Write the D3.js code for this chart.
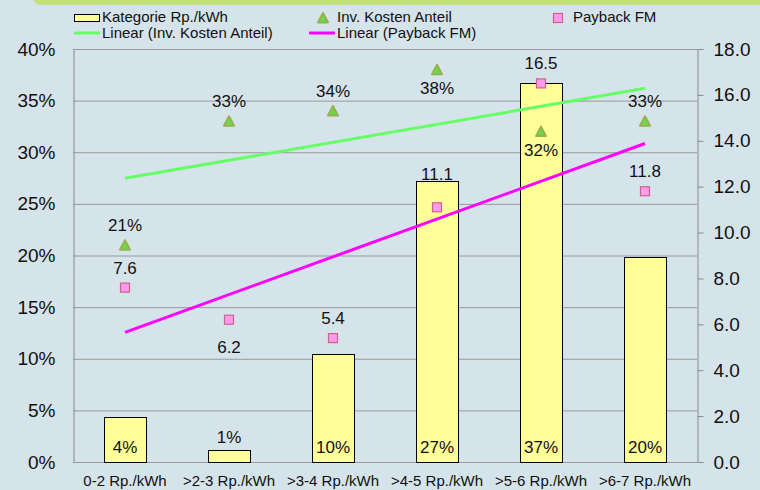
<!DOCTYPE html>
<html>
<head>
<meta charset="utf-8">
<script src="https://cdn.jsdelivr.net/npm/d3@7/dist/d3.min.js"></script>
<style>
  body { margin: 0; background: #d5e3ea; }
  svg { display: block; font-family: "Liberation Sans", Arial, sans-serif; }
</style>
</head>
<body>
<svg id="chart" width="760" height="490"></svg>
<script>
// Daten
var categories = ["0-2 Rp./kWh", ">2-3 Rp./kWh", ">3-4 Rp./kWh", ">4-5 Rp./kWh", ">5-6 Rp./kWh", ">6-7 Rp./kWh"];
var kategorie = [4.4, 1.2, 10.5, 27.2, 36.7, 19.9];       // % (linke Achse)
var kategorieLabels = ["4%", "1%", "10%", "27%", "37%", "20%"];
var invKosten = [21, 33, 34, 38, 32, 33];                  // % (linke Achse)
var invKostenLabelPos = ["above", "above", "above", "below", "below", "above"];
var payback = [7.6, 6.2, 5.4, 11.1, 16.5, 11.8];           // rechte Achse
var paybackLabelPos = ["above", "below", "above", "high", "above", "above"];
var leftTicks = [0, 5, 10, 15, 20, 25, 30, 35, 40];
var rightTicks = [0, 2, 4, 6, 8, 10, 12, 14, 16, 18];

var svg = d3.select("#chart");
var m = { left: 73, right: 63, top: 49, bottom: 28 };
var W = 760, H = 490;
var innerW = W - m.left - m.right, innerH = H - m.top - m.bottom;

// grüner Streifen oben
svg.append("path")
  .attr("d", "M33,0 L760,0 L760,5 L38,5 Z")
  .attr("fill", "#c4e07a");

var x = d3.scaleBand().domain(categories).range([m.left, m.left + innerW]).paddingInner(0.6).paddingOuter(0.3);
var xc = function(i){ return x(categories[i]) + x.bandwidth() / 2; };
var yL = d3.scaleLinear().domain([0, 40]).range([m.top + innerH, m.top]);
var yR = d3.scaleLinear().domain([0, 18]).range([m.top + innerH, m.top]);

// Gitterlinien
svg.append("g").selectAll("line").data(leftTicks).enter().append("line")
  .attr("x1", m.left).attr("x2", m.left + innerW)
  .attr("y1", function(d){ return yL(d) + 0.5; }).attr("y2", function(d){ return yL(d) + 0.5; })
  .attr("stroke", "#9a9a9a").attr("stroke-width", 1);

// linke Achse
var axL = svg.append("g").attr("transform", "translate(" + (m.left + 0.5) + ",0)")
  .call(d3.axisLeft(yL).tickValues(leftTicks).tickSize(0).tickPadding(18).tickFormat(function(d){ return d + "%"; }));
axL.select(".domain").attr("stroke", "#8a8a8a");
axL.selectAll("text").attr("font-size", 19).attr("fill", "#111").attr("font-family", "Liberation Sans, Arial, sans-serif");

// rechte Achse
var axR = svg.append("g").attr("transform", "translate(" + (m.left + innerW + 0.5) + ",0)")
  .call(d3.axisRight(yR).tickValues(rightTicks).tickSize(6).tickPadding(10).tickFormat(d3.format(".1f")));
axR.select(".domain").attr("stroke", "#8a8a8a");
axR.selectAll("line").attr("stroke", "#8a8a8a");
axR.selectAll("text").attr("font-size", 19).attr("fill", "#111").attr("font-family", "Liberation Sans, Arial, sans-serif");

// Kategorien
svg.append("g").selectAll("text").data(categories).enter().append("text")
  .attr("x", function(d, i){ return xc(i); }).attr("y", 486)
  .attr("text-anchor", "middle").attr("font-size", 15).attr("fill", "#111")
  .text(function(d){ return d; });

// Balken
svg.append("g").selectAll("rect").data(kategorie).enter().append("rect")
  .attr("x", function(d, i){ return Math.round(x(categories[i])) + 0.5; })
  .attr("y", function(d){ return Math.round(yL(d)) + 0.5; })
  .attr("width", Math.round(x.bandwidth()))
  .attr("height", function(d){ return Math.round(yL(0)) - Math.round(yL(d)); })
  .attr("fill", "#ffff99").attr("stroke", "#000").attr("stroke-width", 1);

svg.append("g").selectAll("text").data(kategorie).enter().append("text")
  .attr("x", function(d, i){ return xc(i); })
  .attr("y", function(d){ return (yL(0) - yL(d)) > 22 ? yL(0) - 9 : yL(d) - 7; })
  .attr("text-anchor", "middle").attr("font-size", 17).attr("fill", "#111")
  .text(function(d, i){ return kategorieLabels[i]; });

// lineare Trendlinien
function trend(vals){
  var xs = vals.map(function(d, i){ return i + 1; });
  var mx = d3.mean(xs), my = d3.mean(vals);
  var sxy = d3.sum(vals, function(d, i){ return (xs[i] - mx) * (d - my); });
  var sxx = d3.sum(xs, function(v){ return (v - mx) * (v - mx); });
  var b = sxy / sxx, a = my - b * mx;
  return [[0, a + b], [vals.length - 1, a + b * vals.length]];
}
svg.append("path").datum(trend(invKosten))
  .attr("d", d3.line().x(function(d){ return xc(d[0]); }).y(function(d){ return yL(d[1]); }))
  .attr("stroke", "#66ff66").attr("stroke-width", 3).attr("fill", "none");
svg.append("path").datum(trend(payback))
  .attr("d", d3.line().x(function(d){ return xc(d[0]); }).y(function(d){ return yR(d[1]); }))
  .attr("stroke", "#ff00ff").attr("stroke-width", 3).attr("fill", "none");

// Marker
function triangle(g, cx, cy){
  g.append("path")
    .attr("d", "M" + cx + "," + (cy - 5) + " L" + (cx + 5) + "," + (cy + 4.5) + " L" + (cx - 5) + "," + (cy + 4.5) + " Z")
    .attr("fill", "#66dd44").attr("stroke", "#99b050").attr("stroke-width", 2).attr("stroke-linejoin", "round");
}
function square(g, cx, cy){
  g.append("rect").attr("x", cx - 4.5).attr("y", cy - 4.5).attr("width", 9).attr("height", 9)
    .attr("fill", "#ff99ee").attr("stroke", "#cc6688").attr("stroke-width", 1.2);
}

var gInv = svg.append("g");
invKosten.forEach(function(d, i){ triangle(gInv, xc(i), yL(d)); });
svg.append("g").selectAll("text").data(invKosten).enter().append("text")
  .attr("x", function(d, i){ return xc(i); })
  .attr("y", function(d, i){ return invKostenLabelPos[i] == "above" ? yL(d) - 14 : yL(d) + 24; })
  .attr("text-anchor", "middle").attr("font-size", 17).attr("fill", "#111")
  .text(function(d){ return d + "%"; });

var gPay = svg.append("g");
payback.forEach(function(d, i){ square(gPay, xc(i), yR(d)); });
var payOffset = { above: -14, high: -27, below: 33 };
svg.append("g").selectAll("text").data(payback).enter().append("text")
  .attr("x", function(d, i){ return xc(i); })
  .attr("y", function(d, i){ return yR(d) + payOffset[paybackLabelPos[i]]; })
  .attr("text-anchor", "middle").attr("font-size", 17).attr("fill", "#111")
  .text(function(d){ return d3.format(".1f")(d); });

// Legende
var lg = svg.append("g").attr("font-size", 15).attr("fill", "#111");
lg.append("rect").attr("x", 74.5).attr("y", 14.5).attr("width", 25).attr("height", 7)
  .attr("fill", "#ffff99").attr("stroke", "#000");
lg.append("text").attr("x", 102).attr("y", 22).text("Kategorie Rp./kWh");
triangle(lg, 323, 18);
lg.append("text").attr("x", 337).attr("y", 22).text("Inv. Kosten Anteil");
square(lg, 558, 18);
lg.append("text").attr("x", 573).attr("y", 22).text("Payback FM");
lg.append("line").attr("x1", 74).attr("x2", 100).attr("y1", 33).attr("y2", 33)
  .attr("stroke", "#66ff66").attr("stroke-width", 3);
lg.append("text").attr("x", 102).attr("y", 38).text("Linear (Inv. Kosten Anteil)");
lg.append("line").attr("x1", 309).attr("x2", 335).attr("y1", 33).attr("y2", 33)
  .attr("stroke", "#ff00ff").attr("stroke-width", 3);
lg.append("text").attr("x", 337).attr("y", 38).text("Linear (Payback FM)");
</script>
</body>
</html>
